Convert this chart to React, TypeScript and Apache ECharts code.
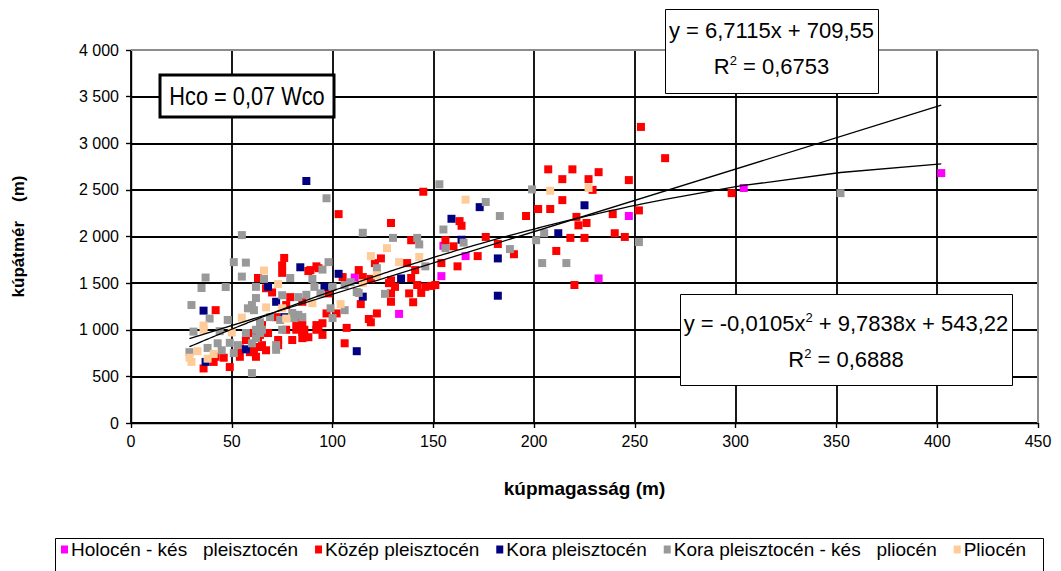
import React, { useEffect, useRef } from "react";
import * as echarts from "echarts";

// Cone height (x, m) vs cone diameter (y, m), grouped by age
const holoceneLatePleistocene: number[][] = [
  [111, 1560], [133, 1170], [154, 1575], [155, 1900], [166, 1790], [232, 1550], [247, 2220], [304, 2520], [402, 2680],
];

const middlePleistocene: number[][] = [
  [253, 3175], [265, 2840], [298, 2465], [252, 2280], [247, 2605], [245, 1995],
  [207, 2720], [219, 2720], [232, 2690], [214, 2615], [227, 2615], [229, 2500], [214, 2390], [202, 2295], [208, 2295],
  [196, 2220], [221, 2210], [222, 2120], [226, 2145], [239, 2240], [240, 2035], [218, 1985], [225, 1985], [211, 1845],
  [176, 1995], [182, 1920], [190, 1810], [220, 1480],
  [145, 2480], [103, 2240], [129, 2145], [163, 2165], [164, 2115], [139, 1960], [156, 1960], [160, 1895], [172, 1790],
  [154, 1715], [162, 1680], [124, 1765], [121, 1715], [137, 1715], [141, 1640], [139, 1555], [142, 1480], [146, 1460],
  [149, 1470], [151, 1480], [129, 1530], [131, 1460], [129, 1390], [138, 1390], [144, 1395], [119, 1545], [89, 1640],
  [92, 1680], [105, 1565], [115, 1565],
  [128, 1500], [129, 1300], [140, 1295], [114, 1275], [122, 1175], [118, 1115], [119, 1080], [107, 1020], [106, 855],
  [98, 1390], [97, 1175], [95, 1070], [93, 1030], [86, 1000], [95, 945], [85, 910],
  [76, 1770], [75, 1690], [75, 1610], [88, 1630], [67, 1445], [70, 1400], [79, 1350], [77, 1265], [85, 1300], [72, 1135],
  [82, 1080], [82, 1000], [92, 1050], [86, 920], [80, 890], [73, 835], [63, 920], [65, 835], [61, 760], [113, 1640],
  [93, 1660], [102, 1175],
  [42, 1210], [36, 585], [49, 600], [42, 710], [46, 700], [54, 800], [59, 965], [57, 890], [54, 710], [59, 760], [62, 710],
  [41, 655], [53, 770], [60, 815], [64, 815], [67, 780], [64, 945], [65, 1050], [68, 965], [73, 890], [77, 1000],
  [85, 1050], [85, 975], [92, 1000], [88, 920], [63, 1555],
];

const earlyPleistocene: number[][] = [
  [87, 2595], [84, 1670], [36, 1205], [57, 790], [37, 655], [103, 1600], [96, 1460], [68, 1460], [112, 770], [76, 1135],
  [72, 1300], [159, 2190], [173, 2315], [164, 1965], [182, 1765], [134, 1550], [115, 1355], [182, 1365], [225, 2335],
  [212, 2035],
];

const earlyPleistoceneLatePliocene: number[][] = [
  [352, 2465], [252, 1940], [97, 2410], [153, 2560], [60, 535], [55, 2015],
  [199, 2505], [176, 2370], [183, 2220], [188, 1865], [205, 2035], [201, 1960], [204, 1715], [216, 1715],
  [115, 2040], [130, 1985], [142, 1985], [143, 1915], [155, 2075], [156, 1875], [165, 1935],
  [146, 1680], [98, 1725], [95, 1645], [90, 1545], [122, 1660], [109, 1510], [126, 1385], [87, 1375], [100, 1460],
  [51, 1725], [57, 1720], [55, 1570], [37, 1560], [35, 1448], [47, 1458], [62, 1460], [66, 1545], [79, 1555],
  [30, 1265], [39, 1120], [48, 1105], [31, 980], [29, 760], [44, 985], [43, 855], [49, 860], [53, 835], [60, 855],
  [60, 1265], [51, 750], [58, 1230], [57, 965], [62, 910], [65, 1000], [72, 835], [61, 1210], [74, 1105], [81, 1125],
  [83, 1160], [64, 965], [72, 785], [62, 1340], [75, 1370], [83, 1350], [94, 1390], [106, 1480], [112, 1405],
  [64, 1080], [69, 1135], [80, 1180], [85, 1135], [99, 1230], [100, 1125], [62, 1000], [75, 1000], [106, 1210],
  [113, 1395], [91, 1460], [38, 805], [45, 780],
];

const pliocene: number[][] = [
  [166, 2395], [208, 2490], [227, 2520], [127, 1875], [119, 1790], [133, 1725], [143, 1780], [115, 1500], [122, 1585],
  [66, 1635], [73, 1490], [67, 1240], [77, 1120], [90, 1285], [104, 1275], [75, 1230], [36, 1045], [33, 770], [30, 655],
  [41, 740], [55, 1130], [50, 970], [36, 1000], [29, 700], [38, 690],
];

const groupNames = [
  "Holocén - kés   pleisztocén",
  "Közép pleisztocén",
  "Kora pleisztocén",
  "Kora pleisztocén - kés   pliocén",
  "Pliocén",
];
const groupData = [holoceneLatePleistocene, middlePleistocene, earlyPleistocene, earlyPleistoceneLatePliocene, pliocene];

// Trendline coefficients as printed in the equation boxes
const linearCoef = { slope: 6.7115, intercept: 709.55, r2: "0,6753" };
const polyCoef = { a: -0.0105, b: 9.7838, c: 543.22, r2: "0,6888" };
const ratioLabel = "Hco = 0,07 Wco";

const xTicks = { min: 0, max: 450, step: 50 };
const yTicks = { min: 0, max: 4000, step: 500 };

const groupColors = ["#FF00FF", "#FF0000", "#000080", "#999999", "#FFCC99"];
const FONT = "'Liberation Sans', Arial, Helvetica, sans-serif";

function formatThousands(v: number): string {
  if (v < 1000) return String(v);
  const th = Math.floor(v / 1000);
  const rest = String(v % 1000).padStart(3, "0");
  return `${th} ${rest}`;
}

function buildOption() {
  const allX = groupData.flat().map((p) => p[0]);
  const xMin = Math.min(...allX);
  const xMax = Math.max(...allX);
  const xs = Array.from(new Set(allX)).sort((a, b) => a - b);

  const linearLine = [xMin, xMax].map((x) => [x, linearCoef.slope * x + linearCoef.intercept]);
  const polyLine = xs.map((x) => [x, polyCoef.a * x * x + polyCoef.b * x + polyCoef.c]);

  const scatterSeries = groupNames.map((name, i) => ({
    name,
    type: "scatter",
    data: groupData[i],
    symbol: "rect",
    symbolSize: 8,
    itemStyle: { color: groupColors[i], opacity: 1 },
    z: 2 + i * 0.1,
    silent: true,
  }));

  const trendStyle = { color: "#000", width: 1.3 };
  const eqRich = {
    n: { fontSize: 22, fontFamily: FONT, color: "#000", lineHeight: 25 },
    s: { fontSize: 13, fontFamily: FONT, color: "#000", verticalAlign: "top", lineHeight: 13 },
  };

  const centeredText = (x: number, y: number, text: string) => ({
    type: "text",
    x,
    y,
    z: 101,
    style: {
      text,
      x: 0,
      y: 0,
      align: "center",
      verticalAlign: "middle",
      textAlign: "center",
      textVerticalAlign: "middle",
      fill: "#000",
      rich: eqRich,
    },
  });

  const fmt = (v: number) => String(v).replace(".", ",");
  const axisStroke = { color: "#000", width: 1.4 };
  const gridStroke = { color: "#000", width: 1.8 };

  return {
    animation: false,
    backgroundColor: "#fff",
    grid: { left: 131, right: 23, top: 50, bottom: 148, containLabel: false },
    xAxis: {
      type: "value",
      min: xTicks.min,
      max: xTicks.max,
      interval: xTicks.step,
      name: "kúpmagasság (m)",
      nameLocation: "middle",
      nameGap: 56,
      nameTextStyle: { fontFamily: FONT, fontWeight: "bold", fontSize: 19, color: "#000" },
      axisLine: { show: true, lineStyle: axisStroke },
      axisTick: { show: true, length: 5, lineStyle: axisStroke },
      axisLabel: { fontFamily: FONT, fontSize: 16, color: "#000", margin: 10 },
      splitLine: { show: true, lineStyle: gridStroke },
    },
    yAxis: {
      type: "value",
      min: yTicks.min,
      max: yTicks.max,
      interval: yTicks.step,
      name: "kúpátmér    (m)",
      nameLocation: "middle",
      nameGap: 104,
      nameTextStyle: { fontFamily: FONT, fontWeight: "bold", fontSize: 17, color: "#000" },
      axisLine: { show: true, lineStyle: axisStroke },
      axisTick: { show: true, length: 5, lineStyle: axisStroke },
      axisLabel: { fontFamily: FONT, fontSize: 16, color: "#000", margin: 12, formatter: formatThousands },
      splitLine: { show: true, lineStyle: gridStroke },
    },
    legend: {
      data: groupNames,
      left: 61,
      top: 540,
      padding: 0,
      itemWidth: 7,
      itemHeight: 8,
      itemGap: 17,
      icon: "rect",
      selectedMode: false,
      textStyle: { fontFamily: FONT, fontSize: 19, color: "#000", padding: [0, 0, 0, -2] },
    },
    series: [
      ...scatterSeries,
      {
        name: "linear",
        type: "line",
        data: linearLine,
        showSymbol: false,
        symbol: "none",
        lineStyle: trendStyle,
        z: 5,
        silent: true,
      },
      {
        name: "poly",
        type: "line",
        data: polyLine,
        showSymbol: false,
        symbol: "none",
        lineStyle: trendStyle,
        z: 5,
        silent: true,
      },
    ],
    graphic: [
      // plot-area border on top and right
      { type: "line", z: 90, shape: { x1: 131, y1: 50, x2: 1038, y2: 50 }, style: { stroke: "#8c8c8c", lineWidth: 2 } },
      { type: "line", z: 90, shape: { x1: 1038, y1: 50, x2: 1038, y2: 423 }, style: { stroke: "#8c8c8c", lineWidth: 2 } },
      // ratio label box
      { type: "rect", z: 100, shape: { x: 160, y: 75, width: 174, height: 42 }, style: { fill: "#fff", stroke: "#000", lineWidth: 3 } },
      {
        type: "text",
        x: 247,
        y: 96,
        scaleX: 0.87,
        z: 101,
        style: {
          text: ratioLabel,
          x: 0,
          y: 0,
          align: "center",
          verticalAlign: "middle",
          textAlign: "center",
          textVerticalAlign: "middle",
          fill: "#000",
          fontSize: 25,
          fontFamily: FONT,
        },
      },
      // linear trend equation
      { type: "rect", z: 100, shape: { x: 665.5, y: 9.5, width: 213, height: 84 }, style: { fill: "#fff", stroke: "#000", lineWidth: 1 } },
      centeredText(771.5, 30, `{n|y = ${fmt(linearCoef.slope)}x + ${fmt(linearCoef.intercept)}}`),
      centeredText(771.5, 66, `{n|R}{s|2}{n| = ${linearCoef.r2}}`),
      // polynomial trend equation
      { type: "rect", z: 100, shape: { x: 680.5, y: 294.5, width: 332, height: 91 }, style: { fill: "#fff", stroke: "#000", lineWidth: 1 } },
      centeredText(846, 323, `{n|y = ${fmt(polyCoef.a)}x}{s|2}{n| + ${fmt(polyCoef.b)}x + ${fmt(polyCoef.c)}}`),
      centeredText(846, 359, `{n|R}{s|2}{n| = ${polyCoef.r2}}`),
      // legend frame
      { type: "rect", z: 100, shape: { x: 55.5, y: 538.5, width: 988, height: 50 }, style: { fill: "none", stroke: "#000", lineWidth: 1 } },
    ],
  };
}

export default function App() {
  const ref = useRef<HTMLDivElement>(null);
  useEffect(() => {
    if (!ref.current) return;
    const chart = echarts.init(ref.current, null, { renderer: "svg" });
    chart.setOption(buildOption() as any);
    return () => chart.dispose();
  }, []);
  return (
    <div
      ref={ref}
      style={{ position: "absolute", left: 0, top: 0, width: 1061, height: 571, background: "#fff" }}
    />
  );
}
